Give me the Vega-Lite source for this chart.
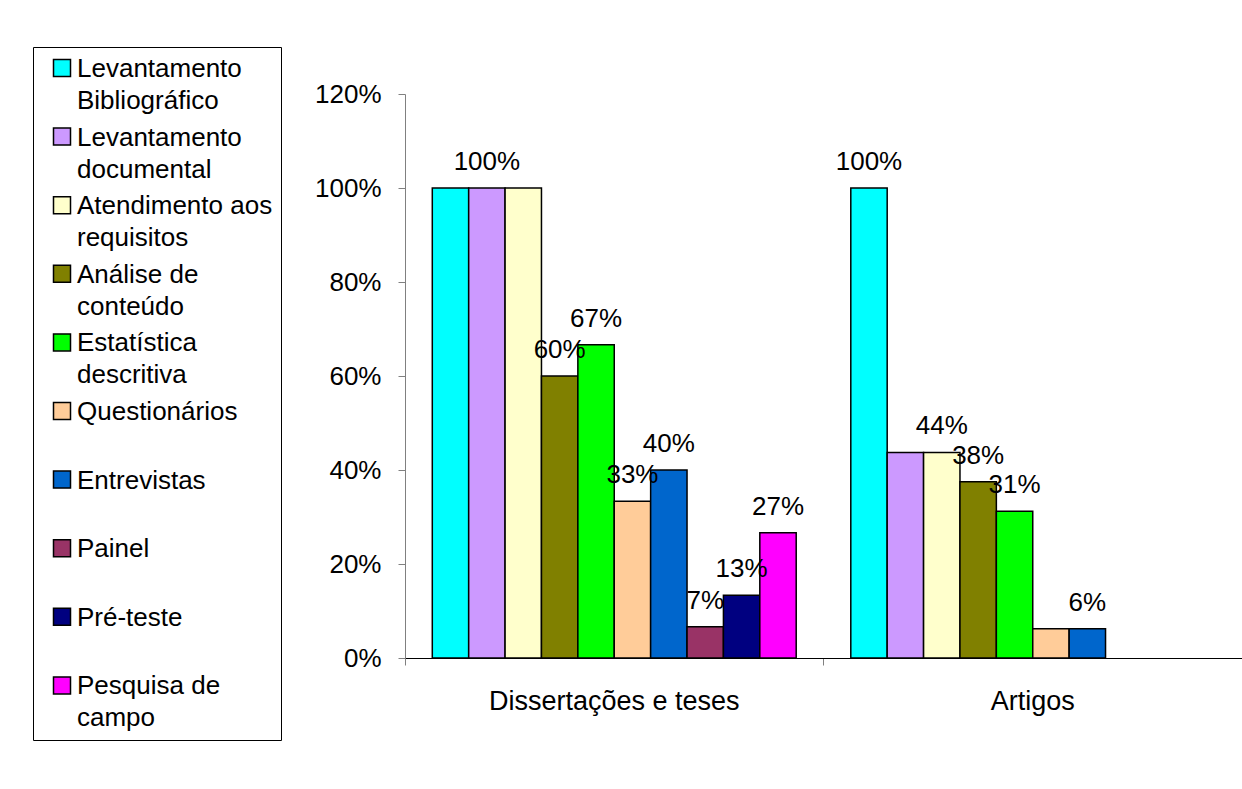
{
  "$schema": "https://vega.github.io/schema/vega-lite/v6.json",
  "autosize": "none",
  "width": 837,
  "height": 564,
  "padding": {"left": 405, "top": 94, "right": 0, "bottom": 131},
  "background": "white",
  "config": {
    "view": {"stroke": null},
    "font": "Liberation Sans",
    "style": {"guide-label": {"lineHeight": 32}}
  },
  "data": {
    "values": [
      {"group": "Dissertações e teses", "series": "Levantamento Bibliográfico", "value": 1.0, "label": null},
      {"group": "Dissertações e teses", "series": "Levantamento documental", "value": 1.0, "label": "100%"},
      {"group": "Dissertações e teses", "series": "Atendimento aos requisitos", "value": 1.0, "label": null},
      {"group": "Dissertações e teses", "series": "Análise de conteúdo", "value": 0.6, "label": "60%"},
      {"group": "Dissertações e teses", "series": "Estatística descritiva", "value": 0.6667, "label": "67%"},
      {"group": "Dissertações e teses", "series": "Questionários", "value": 0.3333, "label": "33%"},
      {"group": "Dissertações e teses", "series": "Entrevistas", "value": 0.4, "label": "40%"},
      {"group": "Dissertações e teses", "series": "Painel", "value": 0.0667, "label": "7%"},
      {"group": "Dissertações e teses", "series": "Pré-teste", "value": 0.1333, "label": "13%"},
      {"group": "Dissertações e teses", "series": "Pesquisa de campo", "value": 0.2667, "label": "27%"},
      {"group": "Artigos", "series": "Levantamento Bibliográfico", "value": 1.0, "label": "100%"},
      {"group": "Artigos", "series": "Levantamento documental", "value": 0.4375, "label": null},
      {"group": "Artigos", "series": "Atendimento aos requisitos", "value": 0.4375, "label": "44%"},
      {"group": "Artigos", "series": "Análise de conteúdo", "value": 0.375, "label": "38%"},
      {"group": "Artigos", "series": "Estatística descritiva", "value": 0.3125, "label": "31%"},
      {"group": "Artigos", "series": "Questionários", "value": 0.0625, "label": null},
      {"group": "Artigos", "series": "Entrevistas", "value": 0.0625, "label": "6%"}
    ]
  },
  "encoding": {
    "x": {
      "field": "group",
      "type": "nominal",
      "sort": ["Dissertações e teses", "Artigos"],
      "scale": {"paddingInner": 0, "paddingOuter": 0},
      "axis": {
        "title": null,
        "bandPosition": 0,
        "labelAngle": 0,
        "labelFontSize": 27,
        "labelColor": "black",
        "labelPadding": 23,
        "labelLimit": 0,
        "tickSize": 7,
        "tickColor": "#808080",
        "domainColor": "#000000",
        "grid": false
      }
    },
    "xOffset": {
      "field": "series",
      "type": "nominal",
      "sort": ["Levantamento Bibliográfico", "Levantamento documental", "Atendimento aos requisitos", "Análise de conteúdo", "Estatística descritiva", "Questionários", "Entrevistas", "Painel", "Pré-teste", "Pesquisa de campo"],
      "scale": {"domain": ["Levantamento Bibliográfico", "Levantamento documental", "Atendimento aos requisitos", "Análise de conteúdo", "Estatística descritiva", "Questionários", "Entrevistas", "Painel", "Pré-teste", "Pesquisa de campo"], "paddingInner": 0, "paddingOuter": 0.75}
    },
    "y": {
      "field": "value",
      "type": "quantitative",
      "scale": {"domain": [0, 1.2], "nice": false},
      "axis": {
        "title": null,
        "values": [0, 0.2, 0.4, 0.6, 0.8, 1.0, 1.2],
        "format": ".0%",
        "grid": false,
        "tickSize": 7,
        "labelPadding": 17,
        "labelFontSize": 26,
        "labelColor": "black",
        "tickColor": "#808080",
        "domainColor": "#808080"
      }
    }
  },
  "layer": [
    {
      "mark": {"type": "bar", "stroke": "black", "strokeWidth": 1.5},
      "encoding": {
        "color": {
          "field": "series",
          "type": "nominal",
          "scale": {
            "domain": ["Levantamento Bibliográfico", "Levantamento documental", "Atendimento aos requisitos", "Análise de conteúdo", "Estatística descritiva", "Questionários", "Entrevistas", "Painel", "Pré-teste", "Pesquisa de campo"],
            "range": ["#00FFFF", "#CC99FF", "#FFFFCC", "#808000", "#00FF00", "#FFCC99", "#0066CC", "#993366", "#000080", "#FF00FF"]
          },
          "legend": {
            "orient": "none",
            "legendX": -372,
            "legendY": -47,
            "title": null,
            "symbolType": "square",
            "symbolSize": 289,
            "symbolStrokeColor": "black",
            "symbolStrokeWidth": 1.5,
            "symbolOffset": 8,
            "labelOffset": 2,
            "labelFontSize": 26,
            "labelColor": "black",
            "labelBaseline": "alphabetic",
            "labelLimit": 0,
            "rowPadding": 9.6,
            "padding": 8,
            "strokeColor": "black",
            "fillColor": "white",
            "labelExpr": "datum.label == 'Levantamento Bibliográfico' ? ['Levantamento', 'Bibliográfico'] : datum.label == 'Levantamento documental' ? ['Levantamento', 'documental'] : datum.label == 'Atendimento aos requisitos' ? ['Atendimento aos', 'requisitos'] : datum.label == 'Análise de conteúdo' ? ['Análise de', 'conteúdo'] : datum.label == 'Estatística descritiva' ? ['Estatística', 'descritiva'] : datum.label == 'Pesquisa de campo' ? ['Pesquisa de', 'campo'] : [datum.label, '']",
            "encode": {"labels": {"update": {"dy": {"value": 9}}}}
          }
        }
      }
    },
    {
      "transform": [{"filter": "datum.label != null"}],
      "mark": {"type": "text", "fontSize": 26, "dy": -26, "baseline": "middle", "color": "black"},
      "encoding": {"text": {"field": "label"}}
    }
  ]
}
